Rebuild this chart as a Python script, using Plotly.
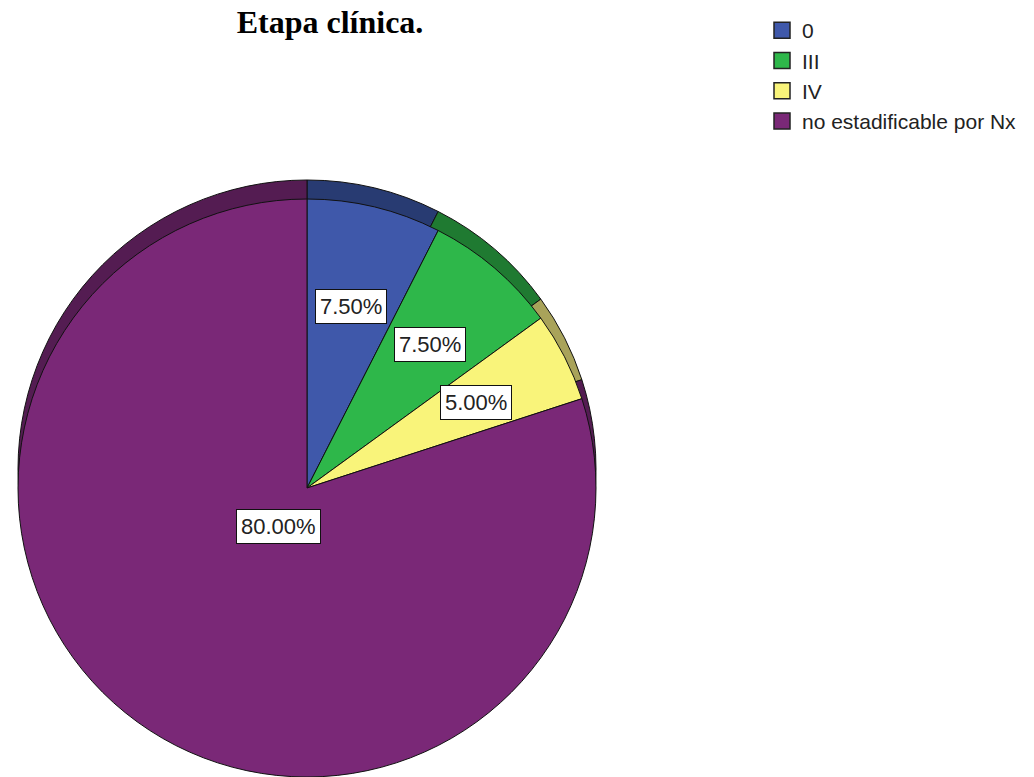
import math
import plotly.graph_objects as go

# ---- data ----
categories = ["0", "III", "IV", "no estadificable por Nx"]
percentages = [7.5, 7.5, 5.0, 80.0]
label_texts = ["7.50%", "7.50%", "5.00%", "80.00%"]

# ---- style ----
main_colors = ["#3F58AA", "#2EB74A", "#F9F47A", "#7A2877"]
rim_colors = ["#283B72", "#1F7A31", "#A9A35A", "#541C52"]
label_radius_frac = [0.645, 0.655, 0.655, 0.165]

W, H = 1034, 777
cx, cy, R = 307, 488, 289      # pie centre (px from top-left) and radius
rim_dy = 19                    # depth of the 3D rim

main_dom_x = [(cx - R) / W, (cx + R) / W]
main_dom_y = [max(0, (H - cy - R) / H), (H - cy + R) / H]
rim_dom_y = [(H - cy + rim_dy - R) / H, (H - cy + rim_dy + R) / H]

fig = go.Figure()

# back "rim" pie (gives the extruded look)
fig.add_trace(go.Pie(
    labels=categories, values=percentages, sort=False,
    direction="clockwise", rotation=0,
    marker=dict(colors=rim_colors, line=dict(color="#111111", width=1)),
    textinfo="none", hoverinfo="skip", showlegend=False,
    domain=dict(x=main_dom_x, y=rim_dom_y),
))

# main pie
fig.add_trace(go.Pie(
    labels=categories, values=percentages, sort=False,
    direction="clockwise", rotation=0,
    marker=dict(colors=main_colors, line=dict(color="#111111", width=1)),
    textinfo="none", showlegend=False,
    domain=dict(x=main_dom_x, y=main_dom_y),
))

# legend entries (square swatches) for each category
for cat, col in zip(categories, main_colors):
    fig.add_trace(go.Scatter(
        x=[None], y=[None], mode="markers", name=cat,
        marker=dict(symbol="square", size=16, color=col,
                    line=dict(color="#222222", width=1.5)),
        showlegend=True, hoverinfo="skip",
    ))

# boxed percentage labels placed at slice mid-angles
total = sum(percentages)
cum = 0.0
for val, txt, f in zip(percentages, label_texts, label_radius_frac):
    mid = (cum + val / 2) / total * 2 * math.pi
    cum += val
    px = cx + f * R * math.sin(mid)
    py = cy - f * R * math.cos(mid)
    fig.add_annotation(
        x=px / W, y=1 - py / H, xref="paper", yref="paper",
        text=txt, showarrow=False,
        font=dict(family="Arial, Liberation Sans, sans-serif", size=22, color="#222222"),
        bgcolor="white", bordercolor="#111111", borderwidth=1, borderpad=4,
        xanchor="center", yanchor="middle",
    )

fig.update_layout(
    width=W, height=H,
    margin=dict(l=0, r=0, t=0, b=0),
    paper_bgcolor="white", plot_bgcolor="white",
    xaxis=dict(visible=False), yaxis=dict(visible=False),
    title=dict(
        text="<b>Etapa clínica.</b>",
        font=dict(family="Liberation Serif, Times New Roman, serif", size=32, color="black"),
        x=330 / W, xanchor="center", y=1 - 22 / H, yanchor="middle",
        xref="paper", yref="container",
    ),
    legend=dict(
        x=762 / W, y=1 - 10 / H, xanchor="left", yanchor="top",
        font=dict(family="Arial, Liberation Sans, sans-serif", size=21, color="#222222"),
        bgcolor="rgba(0,0,0,0)", tracegroupgap=0,
    ),
)

fig.write_html("out.html")
